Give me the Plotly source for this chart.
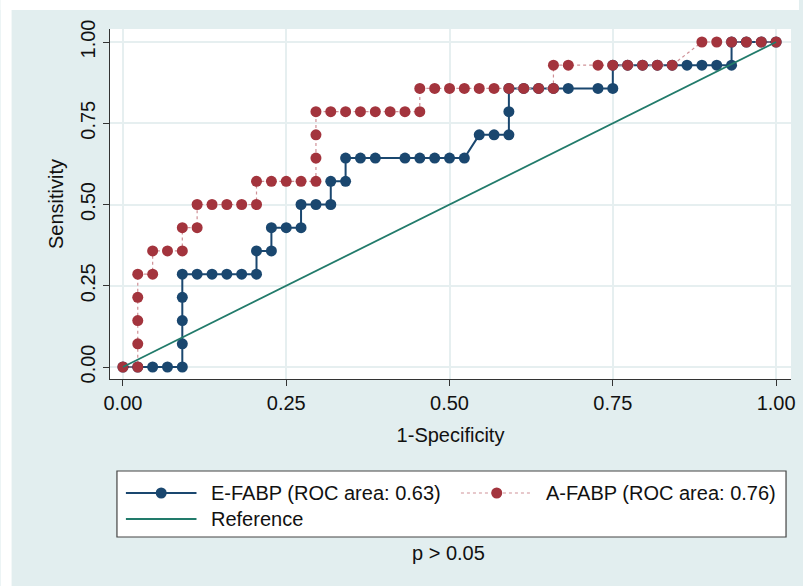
import plotly.graph_objects as go

# ---------------- data ----------------
e_fpr = [0.0, 0.0227, 0.0455, 0.0682, 0.0909, 0.0909, 0.0909, 0.0909, 0.0909,
         0.1136, 0.1364, 0.1591, 0.1818, 0.2045, 0.2045, 0.2273, 0.2273, 0.25,
         0.2727, 0.2727, 0.2955, 0.3182, 0.3182, 0.3409, 0.3409, 0.3636, 0.3864,
         0.4318, 0.4545, 0.4773, 0.5, 0.5227, 0.5455, 0.5682, 0.5909, 0.5909,
         0.5909, 0.6136, 0.6364, 0.6591, 0.6818, 0.7273, 0.75, 0.75, 0.7727,
         0.7955, 0.8182, 0.8409, 0.8636, 0.8864, 0.9091, 0.9318, 0.9318, 0.9545,
         0.9773, 1.0]
e_tpr = [0.0, 0.0, 0.0, 0.0, 0.0, 0.0714, 0.1429, 0.2143, 0.2857,
         0.2857, 0.2857, 0.2857, 0.2857, 0.2857, 0.3571, 0.3571, 0.4286, 0.4286,
         0.4286, 0.5, 0.5, 0.5, 0.5714, 0.5714, 0.6429, 0.6429, 0.6429,
         0.6429, 0.6429, 0.6429, 0.6429, 0.6429, 0.7143, 0.7143, 0.7143, 0.7857,
         0.8571, 0.8571, 0.8571, 0.8571, 0.8571, 0.8571, 0.8571, 0.9286, 0.9286,
         0.9286, 0.9286, 0.9286, 0.9286, 0.9286, 0.9286, 0.9286, 1.0, 1.0,
         1.0, 1.0]

a_fpr = [0.0, 0.0227, 0.0227, 0.0227, 0.0227, 0.0227, 0.0455, 0.0455, 0.0682,
         0.0909, 0.0909, 0.1136, 0.1136, 0.1364, 0.1591, 0.1818, 0.2045, 0.2045,
         0.2273, 0.25, 0.2727, 0.2955, 0.2955, 0.2955, 0.2955, 0.3182, 0.3409,
         0.3636, 0.3864, 0.4091, 0.4318, 0.4545, 0.4545, 0.4773, 0.5, 0.5227,
         0.5455, 0.5682, 0.5909, 0.6136, 0.6364, 0.6591, 0.6591, 0.6818, 0.7273,
         0.75, 0.7727, 0.7955, 0.8182, 0.8409, 0.8864, 0.9091, 0.9318, 0.9545,
         0.9773, 1.0]
a_tpr = [0.0, 0.0, 0.0714, 0.1429, 0.2143, 0.2857, 0.2857, 0.3571, 0.3571,
         0.3571, 0.4286, 0.4286, 0.5, 0.5, 0.5, 0.5, 0.5, 0.5714,
         0.5714, 0.5714, 0.5714, 0.5714, 0.6429, 0.7143, 0.7857, 0.7857, 0.7857,
         0.7857, 0.7857, 0.7857, 0.7857, 0.7857, 0.8571, 0.8571, 0.8571, 0.8571,
         0.8571, 0.8571, 0.8571, 0.8571, 0.8571, 0.8571, 0.9286, 0.9286, 0.9286,
         0.9286, 0.9286, 0.9286, 0.9286, 0.9286, 1.0, 1.0, 1.0, 1.0,
         1.0, 1.0]

ref_x = [0.0, 1.0]
ref_y = [0.0, 1.0]

tick_vals = [0.0, 0.25, 0.5, 0.75, 1.0]
tick_text = ["0.00", "0.25", "0.50", "0.75", "1.00"]

names = ["E-FABP (ROC area: 0.63)", "A-FABP (ROC area: 0.76)", "Reference"]
note_text = "p > 0.05"

# ---------------- styles ----------------
BLUE = "#1A476F"
RED = "#A3343D"
RED_LINE = "#CF9197"
GREEN = "#227B6B"
BG = "#E2EEEF"
GRID = "#E6EFF0"
AXIS = "#333333"
FONT = "Liberation Sans, Arial, sans-serif"
FS = 20

fig = go.Figure()
fig.add_trace(go.Scatter(x=e_fpr, y=e_tpr, mode="lines+markers", name=names[0],
                         line=dict(color=BLUE, width=2),
                         marker=dict(color=BLUE, size=11, line=dict(width=0)),
                         showlegend=False))
fig.add_trace(go.Scatter(x=a_fpr, y=a_tpr, mode="lines+markers", name=names[1],
                         line=dict(color=RED_LINE, width=1.2, dash="dot"),
                         marker=dict(color=RED, size=11, line=dict(width=0)),
                         showlegend=False))
fig.add_trace(go.Scatter(x=ref_x, y=ref_y, mode="lines", name=names[2],
                         line=dict(color=GREEN, width=1.8),
                         showlegend=False))

# plot area in pixels: x 110..795, y 29..379
L, R, T, B = 110, 8, 29, 207
W, H = 803, 586
PW, PH = W - L - R, H - T - B


def px(x):
    return (x - L) / PW


def py(y):
    return (H - B - y) / PH


shapes = []
# white strips at left and top of the screenshot
shapes.append(dict(type="rect", xref="paper", yref="paper", x0=px(0), x1=px(11),
                   y0=py(H), y1=py(0), fillcolor="white", line=dict(width=0), layer="below"))
shapes.append(dict(type="rect", xref="paper", yref="paper", x0=px(0), x1=px(W),
                   y0=py(10), y1=py(0), fillcolor="white", line=dict(width=0), layer="below"))

# custom legend box
shapes.append(dict(type="rect", xref="paper", yref="paper", x0=px(117), x1=px(790),
                   y0=py(537), y1=py(471), fillcolor="white",
                   line=dict(color="#444444", width=1.2), layer="above"))
row1, row2 = 493, 519
legend_items = [
    (126, 197, row1, BLUE, "solid", 2, BLUE, names[0], 210),
    (463, 535, row1, RED_LINE, "dot", 1.2, RED, names[1], 547),
    (126, 197, row2, GREEN, "solid", 1.8, None, names[2], 210),
]
annotations = []
for x0, x1, yy, lc, dash, lw, mc, label, tx in legend_items:
    shapes.append(dict(type="line", xref="paper", yref="paper", x0=px(x0), x1=px(x1),
                       y0=py(yy), y1=py(yy), line=dict(color=lc, width=lw, dash=dash),
                       layer="above"))
    if mc:
        cx = px((x0 + x1) / 2)
        cy = py(yy)
        shapes.append(dict(type="circle", xref="paper", yref="paper",
                           xsizemode="pixel", ysizemode="pixel",
                           xanchor=cx, yanchor=cy, x0=-5.5, x1=5.5, y0=-5.5, y1=5.5,
                           fillcolor=mc, line=dict(width=0), layer="above"))
    annotations.append(dict(text=label, xref="paper", yref="paper", x=px(tx), y=py(yy),
                            xanchor="left", yanchor="middle", showarrow=False,
                            font=dict(family=FONT, size=FS, color="#111111")))

annotations.append(dict(text=note_text, xref="paper", yref="paper", x=px(450), y=py(553),
                        xanchor="center", yanchor="middle", showarrow=False,
                        font=dict(family=FONT, size=FS, color="#111111")))

axis_common = dict(
    tickvals=tick_vals, ticktext=tick_text, ticks="outside", ticklen=6,
    tickcolor=AXIS, tickwidth=1, showline=True, linecolor=AXIS, linewidth=1,
    showgrid=True, gridcolor=GRID, gridwidth=1.5, zeroline=False,
    tickfont=dict(family=FONT, size=FS, color="#111111"),
)

fig.update_layout(
    width=W, height=H,
    margin=dict(l=L, r=R, t=T, b=B),
    paper_bgcolor=BG, plot_bgcolor="white",
    shapes=shapes, annotations=annotations,
    showlegend=False,
    xaxis=dict(range=[-0.0198, 1.0228], **axis_common,
               title=dict(text="1-Specificity", standoff=14,
                          font=dict(family=FONT, size=FS, color="#111111"))),
    yaxis=dict(range=[-0.0369, 1.04], tickangle=-90, **axis_common,
               title=dict(text="Sensitivity", standoff=8,
                          font=dict(family=FONT, size=FS, color="#111111"))),
)

fig.write_html("out.html")
